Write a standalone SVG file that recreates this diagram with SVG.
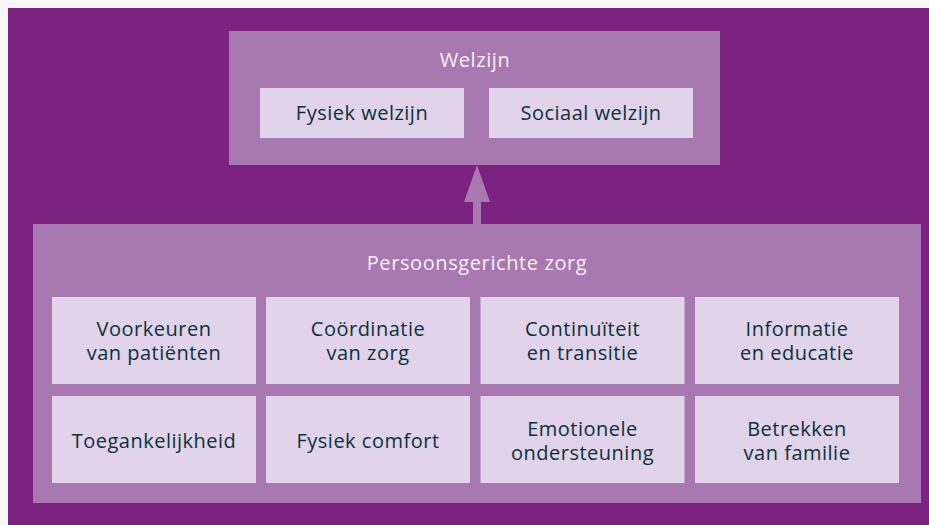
<svg xmlns="http://www.w3.org/2000/svg" width="929" height="525" viewBox="0 0 929 525">
<style>
.panel{fill:#a878b0}
.box{fill:#e0d3ea}
.t{font-family:"Open Sans",Lato,"Liberation Sans",sans-serif;font-size:20px;letter-spacing:0.5px;fill:#0c323b;text-anchor:middle}
.h{font-family:"Open Sans",Lato,"Liberation Sans",sans-serif;font-size:20px;letter-spacing:0.6px;fill:#f7f0f8;text-anchor:middle}
</style>
<rect x="0" y="0" width="929" height="525" fill="#f6f6f6"/>
<rect x="8" y="8" width="921" height="517" fill="#7b2180"/>
<g id="connectors">
<rect x="473" y="200" width="8" height="25" class="panel"/>
<polygon points="477,165 464,202 490,202" class="panel"/>
</g>
<g id="welzijn">
<rect x="229" y="31" width="491" height="134" class="panel"/>
<text x="475" y="67" class="h">Welzijn</text>
</g>
<g id="fysiek-welzijn">
<rect x="260" y="88" width="204" height="50" class="box"/>
<text x="362" y="120" class="t">Fysiek welzijn</text>
</g>
<g id="sociaal-welzijn">
<rect x="489" y="88" width="204" height="50" class="box"/>
<text x="591" y="120" class="t">Sociaal welzijn</text>
</g>
<g id="persoonsgerichte-zorg">
<rect x="33" y="224" width="888" height="279" class="panel"/>
<text x="477" y="270" class="h">Persoonsgerichte zorg</text>
</g>
<g id="voorkeuren">
<rect x="52" y="297" width="204" height="87" class="box"/>
<text class="t"><tspan x="154" y="336">Voorkeuren</tspan><tspan x="154" y="360">van patiënten</tspan></text>
</g>
<g id="coordinatie">
<rect x="266" y="297" width="204" height="87" class="box"/>
<text class="t"><tspan x="368" y="336">Coördinatie</tspan><tspan x="368" y="360">van zorg</tspan></text>
</g>
<g id="continuiteit">
<rect x="480.5" y="297" width="204" height="87" class="box"/>
<text class="t"><tspan x="582.5" y="336">Continuïteit</tspan><tspan x="582.5" y="360">en transitie</tspan></text>
</g>
<g id="informatie">
<rect x="695" y="297" width="204" height="87" class="box"/>
<text class="t"><tspan x="797" y="336">Informatie</tspan><tspan x="797" y="360">en educatie</tspan></text>
</g>
<g id="toegankelijkheid">
<rect x="52" y="396" width="204" height="87" class="box"/>
<text x="154" y="448" class="t">Toegankelijkheid</text>
</g>
<g id="fysiek-comfort">
<rect x="266" y="396" width="204" height="87" class="box"/>
<text x="368" y="448" class="t">Fysiek comfort</text>
</g>
<g id="emotionele">
<rect x="480.5" y="396" width="204" height="87" class="box"/>
<text class="t"><tspan x="582.5" y="436">Emotionele</tspan><tspan x="582.5" y="460">ondersteuning</tspan></text>
</g>
<g id="betrekken">
<rect x="695" y="396" width="204" height="87" class="box"/>
<text class="t"><tspan x="797" y="436">Betrekken</tspan><tspan x="797" y="460">van familie</tspan></text>
</g>
</svg>
